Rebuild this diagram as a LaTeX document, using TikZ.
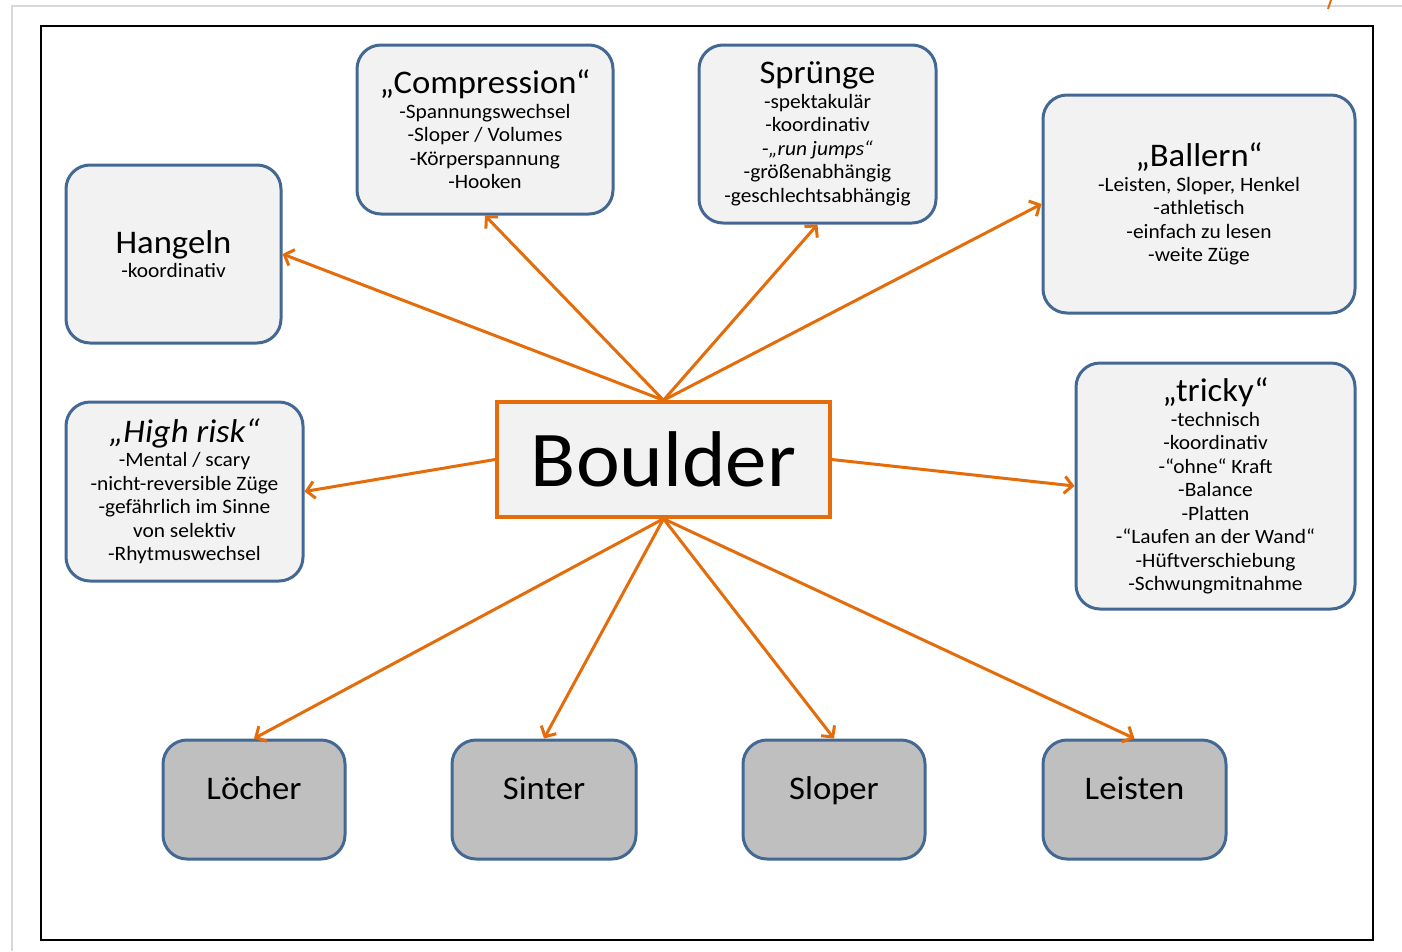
\documentclass[tikz,border=0pt]{standalone}
\usepackage{fontspec}
\setmainfont{Carlito}[FakeStretch=1.05]
\usetikzlibrary{arrows.meta}
\definecolor{arrorange}{RGB}{228,108,10}
\definecolor{boxblue}{RGB}{68,104,148}
\definecolor{boxfill}{RGB}{242,242,242}
\definecolor{boxgray}{RGB}{191,191,191}
\newcommand\titlef{\fontsize{33}{36}\selectfont}
\newcommand\smallf{\fontsize{20.4}{23.5}\selectfont}
\tikzset{
  catbox/.style={draw=boxblue, line width=3pt, fill=boxfill, rounded corners=24pt,
    inner sep=0pt, align=center, font=\smallf},
  holdbox/.style={catbox, fill=boxgray, font=\titlef, text height=21pt, text depth=21pt},
  centerbox/.style={draw=arrorange, line width=3.5pt, fill=boxfill, inner sep=0pt,
    font=\fontsize{79}{90}\selectfont},
  conn/.style={draw=arrorange, line width=3pt, line cap=round,
    -{Straight Barb[length=8pt,width=17pt]}},
}
\begin{document}
\begin{tikzpicture}[x=1pt,y=-1pt]
\useasboundingbox (0,0) rectangle (1402,951);
\draw[gray!30, line width=2pt] (12,951) -- (12,6) -- (1402,6);
\draw[arrorange, line width=2pt] (1331,0) -- (1328,9);
\draw[black, line width=2pt] (41,26) rectangle (1373,940);

\node[centerbox, minimum width=333pt, minimum height=115pt] (boulder) at (663.5,459.5) {Boulder};

\node[catbox, minimum width=256pt, minimum height=169pt] (comp) at (485,129.5)
  {{\titlef „Compression“}\\[1pt] -Spannungswechsel\\ -Sloper / Volumes\\ -Körperspannung\\ -Hooken};
\node[catbox, minimum width=237pt, minimum height=178pt] (spr) at (817.5,134)
  {{\titlef Sprünge}\\[1pt] -spektakulär\\ -koordinativ\\ -\textit{„run jumps“}\\ -größenabhängig\\ -geschlechtsabhängig};
\node[catbox, minimum width=215pt, minimum height=178pt] (hang) at (173.5,254)
  {{\titlef Hangeln}\\[1pt] -koordinativ};
\node[catbox, minimum width=312pt, minimum height=218pt] (ball) at (1199,204)
  {{\titlef „Ballern“}\\[1pt] -Leisten, Sloper, Henkel\\ -athletisch\\ -einfach zu lesen\\ -weite Züge};
\node[catbox, minimum width=237pt, minimum height=179pt] (risk) at (184.5,491.5)
  {{\titlef\itshape „High risk“}\\[1pt] -Mental / scary\\ -nicht-reversible Züge\\ -gefährlich im Sinne\\ von selektiv\\ -Rhytmuswechsel};
\node[catbox, minimum width=279pt, minimum height=246pt] (tricky) at (1215.5,486)
  {{\titlef „tricky“}\\[1pt] -technisch\\ -koordinativ\\ -“ohne“ Kraft\\ -Balance\\ -Platten\\ -“Laufen an der Wand“\\ -Hüftverschiebung\\ -Schwungmitnahme};

\node[holdbox, minimum width=182pt, minimum height=119pt] (loch) at (254,799.5) {Löcher};
\node[holdbox, minimum width=184pt, minimum height=119pt] (sint) at (544,799.5) {Sinter};
\node[holdbox, minimum width=182pt, minimum height=119pt] (slop) at (834,799.5) {Sloper};
\node[holdbox, minimum width=183pt, minimum height=119pt] (leis) at (1134.5,799.5) {Leisten};

\draw[conn] (boulder.north) -- (hang.east);
\draw[conn] (boulder.north) -- (comp.south);
\draw[conn] (boulder.north) -- (spr.south);
\draw[conn] (boulder.north) -- (ball.west);
\draw[conn] (boulder.west) -- (risk.east);
\draw[conn] (boulder.east) -- (tricky.west);
\draw[conn] (boulder.south) -- (loch.north);
\draw[conn] (boulder.south) -- (sint.north);
\draw[conn] (boulder.south) -- (slop.north);
\draw[conn] (boulder.south) -- (leis.north);
\end{tikzpicture}
\end{document}
